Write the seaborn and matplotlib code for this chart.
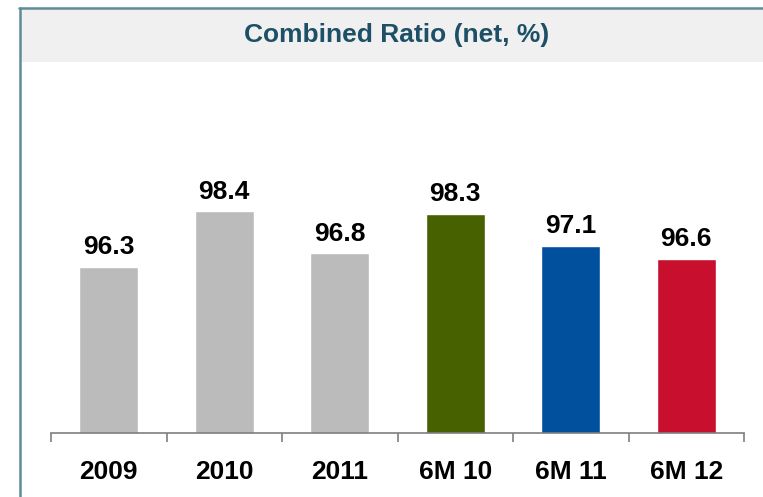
import matplotlib
matplotlib.use("Agg")
import matplotlib.pyplot as plt
import seaborn as sns
import pandas as pd
from matplotlib.patches import Rectangle
from matplotlib.lines import Line2D

# ------------------------------------------------------
# Data
# ------------------------------------------------------
periods = ["2009", "2010", "2011", "6M 10", "6M 11", "6M 12"]
combined_ratio = [96.3, 98.4, 96.8, 98.3, 97.1, 96.6]
bar_colors = ["#BBBBBB", "#BBBBBB", "#BBBBBB", "#476000", "#00509E", "#C8102E"]
title = "Combined Ratio (net, %)"

df = pd.DataFrame({"period": periods, "ratio": combined_ratio})

# ------------------------------------------------------
# Style
# ------------------------------------------------------
sns.set_style("white")
plt.rcParams["font.family"] = ["Liberation Sans", "DejaVu Sans"]
plt.rcParams["font.weight"] = "bold"

W, H = 763, 497
fig = plt.figure(figsize=(W / 100, H / 100), dpi=100)
ax = fig.add_axes([51 / W, (H - 433.3) / H, (744 - 51) / W, (433.3 - 61) / H])

sns.barplot(
    data=df, x="period", y="ratio", hue="period",
    palette=bar_colors, legend=False, width=0.51,
    saturation=1, ax=ax,
)

ax.set_xlim(-0.5, len(periods) - 0.5)
ax.set_ylim(90, 104.08)

# value labels above bars
for i, v in enumerate(combined_ratio):
    ax.annotate(f"{v:.1f}", (i, v), xytext=(0, 5.5), textcoords="offset points",
                ha="center", va="bottom", fontsize=19, fontweight="bold", color="black")

# axis styling
for s in ["top", "right", "left"]:
    ax.spines[s].set_visible(False)
ax.spines["bottom"].set_color("#7F7F7F")
ax.spines["bottom"].set_linewidth(1.2)
ax.set_yticks([])
ax.set_xlabel("")
ax.set_ylabel("")

ax.set_xticks(range(len(periods)))
ax.set_xticklabels(periods, fontsize=19, fontweight="bold", color="black")
ax.tick_params(axis="x", which="major", length=0, pad=19)
ax.set_xticks([i - 0.5 for i in range(len(periods) + 1)], minor=True)
ax.tick_params(axis="x", which="minor", bottom=True, length=6.5, width=1.2,
               color="#7F7F7F", direction="out")

# title band and frame
fig.patches.append(Rectangle((20 / W, (H - 61.7) / H), 1, (61.7 - 9) / H,
                             transform=fig.transFigure, facecolor="#F0F0F0",
                             edgecolor="none", zorder=0))
fig.lines.append(Line2D([19.5 / W, 19.5 / W], [0, (H - 7.5) / H],
                        transform=fig.transFigure, color="#5F8A9A", linewidth=1.8))
fig.lines.append(Line2D([18.5 / W, 1], [(H - 8) / H, (H - 8) / H],
                        transform=fig.transFigure, color="#5F8A9A", linewidth=1.8))

fig.text(397 / W, (H - 35) / H, title, ha="center", va="center",
         fontsize=19, fontweight="bold", color="#1D5067")

fig.savefig("out.png", dpi=100)
